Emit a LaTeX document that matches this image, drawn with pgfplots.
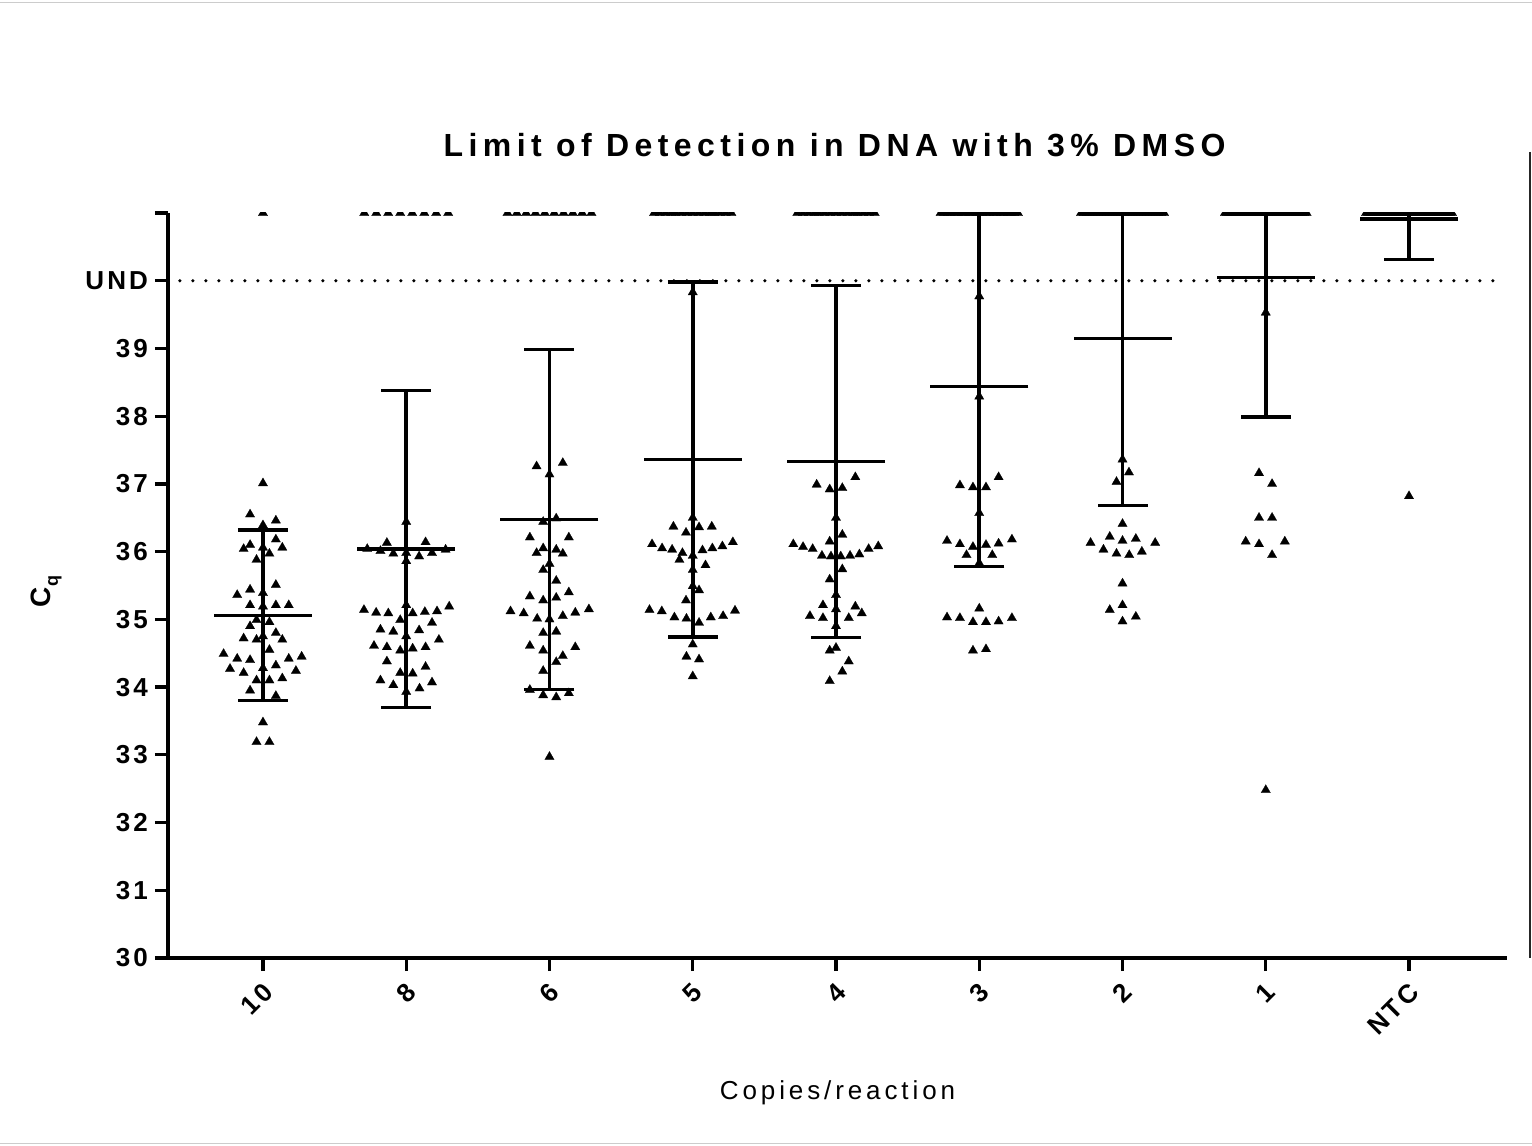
\documentclass[border=0pt]{standalone}
\usepackage{fontspec}
\setmainfont{Liberation Sans}[LetterSpace=15]
\newfontfamily\titlefont{Liberation Sans}[LetterSpace=17]
\newfontfamily\tickfont{Liberation Sans}[LetterSpace=12]
\usepackage{pgfplots}
\usepackage{pgfplotstable}
\pgfplotsset{compat=1.18}

% mean and SD per group (UND counted as 41)
\pgfplotstableread{
x mean sd
0 35.06 1.26
1 36.04 2.34
2 36.47 2.51
3 37.36 2.62
4 37.33 2.60
5 38.44 2.66
6 39.15 2.47
7 40.05 2.06
8 40.91 0.60
}\stats

\pgfplotsset{cqpt/.style={only marks, mark=triangle*, mark size=2.7pt,
    mark options={fill=black, draw=black, line width=0.1pt}}}

\begin{document}
\begin{tikzpicture}
\useasboundingbox (-84pt,-94pt) rectangle (682pt,479pt);
\draw[black!20, line width=0.8pt] (-84pt,477.8pt) -- (682pt,477.8pt);
\draw[black!20, line width=0.8pt] (-84pt,-92.8pt) -- (682pt,-92.8pt);
\draw[black!85, line width=0.7pt] (681pt,403pt) -- (681pt,0pt);
\begin{axis}[
  at={(0,0)}, anchor=south west,
  scale only axis, width=669.5pt, height=372.5pt,
  xmin=-0.663, xmax=8.684, ymin=30, ymax=41,
  axis x line*=bottom, axis y line*=left,
  axis line style={line width=1.6pt},
  xtick={0,...,8}, xticklabels={10,8,6,5,4,3,2,1,NTC},
  ytick={30,...,41}, yticklabels={30,31,32,33,34,35,36,37,38,39,UND,},
  tick align=outside, major tick length=6.5pt,
  tick style={line width=1.6pt, black},
  xticklabel style={font=\tickfont\bfseries\fontsize{13}{13}\selectfont,
    xshift=5pt, yshift=-6pt, rotate=45, anchor=east},
  yticklabel style={font=\tickfont\bfseries\fontsize{13}{13}\selectfont},
  clip marker paths=true,
  title={Limit of Detection in DNA with 3\% DMSO},
  title style={font=\titlefont\bfseries\fontsize{16}{18}\selectfont,
    at={(0.4978,1.0752)}, anchor=base, yshift=-6pt},
  xlabel={Copies/reaction},
  xlabel style={font=\fontsize{13}{15}\selectfont, at={(0.5,-0.1893)}, anchor=base},
  ylabel={C\raisebox{-0.28em}{\fontsize{9}{9}\selectfont q}},
  ylabel style={font=\bfseries\fontsize{14}{16}\selectfont, at={(-0.0881,0.492)}, anchor=base},
]
% UND line
\addplot[black, line width=1.8pt, line cap=round, dash pattern=on 0pt off 6.5pt]
  coordinates {(-0.58,40) (8.66,40)};
% mean and SD bars
\addplot[only marks, mark=-, mark size=24.5pt, mark options={line width=1.65pt},
  error bars/.cd, y dir=both, y explicit, error mark=|,
  error mark options={mark size=12.5pt, line width=1.65pt},
  error bar style={line width=1.8pt}]
  table[x=x, y=mean, y error=sd] {\stats};
% 10 copies
\addplot[cqpt] coordinates {
(0,37.01) (-0.09,36.55) (0.09,36.46) (0,36.39) (-0.09,36.10) (-0.135,36.04)
(0.09,36.18) (0.135,36.06) (0,36.06) (0.045,35.97) (-0.045,35.88) (0.09,35.51)
(-0.09,35.44) (-0.18,35.36) (0,35.39) (-0.09,35.21) (0,35.19) (0.09,35.21)
(0.18,35.21) (-0.045,34.99) (0.045,34.96) (-0.09,34.90) (-0.135,34.72) (-0.045,34.70)
(0.09,34.80) (0.135,34.70) (0,34.75) (0.045,34.55) (-0.275,34.49) (-0.18,34.42)
(-0.09,34.40) (0.18,34.42) (0.27,34.45) (-0.23,34.27) (-0.135,34.21) (0.09,34.32)
(0.23,34.24) (0,34.28) (-0.045,34.10) (0.045,34.10) (0.135,34.13) (-0.09,33.95)
(0.09,33.87) (0,33.48) (-0.045,33.19) (0.045,33.19) (0,41)};
% 8 copies
\addplot[cqpt] coordinates {
(1,36.44) (0.728,36.04) (0.82,36.01) (0.91,35.97) (1,35.98) (1.09,35.93)
(1.18,35.98) (1.275,36.03) (0.865,36.13) (1.135,36.14) (1,35.86) (0.705,35.14)
(0.79,35.10) (0.875,35.09) (0.958,34.99) (1.045,35.09) (1.13,35.11) (1.215,35.12)
(1.30,35.19) (1,35.21) (1.18,34.95) (0.82,34.85) (0.91,34.82) (1.09,34.84)
(1,34.75) (0.775,34.61) (0.865,34.59) (0.958,34.54) (1.045,34.57) (1.135,34.59)
(1.228,34.70) (0.865,34.38) (0.958,34.21) (1.045,34.20) (1.135,34.30) (0.82,34.10)
(0.91,34.03) (1.093,33.98) (1.18,34.07) (1,33.93)
(0.707,41) (0.791,41) (0.874,41) (0.958,41) (1.042,41) (1.126,41) (1.209,41) (1.293,41)};
% 6 copies
\addplot[cqpt] coordinates {
(1.91,37.26) (2.093,37.31) (2,37.14) (1.956,36.44) (2.047,36.49) (1.863,36.21)
(2.135,36.21) (1.956,36.05) (2.047,36.03) (1.91,35.98) (2.093,35.97) (2,35.82)
(1.956,35.73) (2.047,35.57) (1.863,35.34) (2.135,35.40) (1.956,35.28) (2.047,35.32)
(1.728,35.12) (1.82,35.09) (1.914,35.01) (2,35.00) (2.093,35.05) (2.18,35.10)
(2.275,35.15) (1.956,34.80) (2.047,34.82) (1.863,34.61) (2.18,34.59) (1.956,34.54)
(2.093,34.46) (2.047,34.37) (1.956,34.24) (1.863,33.96) (1.956,33.88) (2.047,33.85)
(2.135,33.91) (2,32.97)
(1.707,41) (1.772,41) (1.837,41) (1.902,41) (1.967,41) (2.033,41) (2.098,41)
(2.163,41) (2.228,41) (2.293,41)};
% 5 copies
\addplot[cqpt] coordinates {
(3,39.83) (3,36.50) (2.865,36.37) (3.044,36.36) (3.133,36.37) (2.953,36.28)
(2.716,36.11) (2.786,36.05) (2.856,36.03) (2.928,35.98) (3,35.94) (3.068,36.02)
(3.137,36.05) (3.207,36.08) (3.28,36.14) (2.907,35.88) (3.089,35.80) (3,35.73)
(3,35.49) (3.044,35.43) (2.953,35.28) (2.698,35.14) (2.784,35.12) (2.872,35.03)
(2.956,35.01) (3.044,34.95) (3.126,35.03) (3.212,35.05) (3.295,35.13) (3,34.63)
(2.956,34.45) (3.044,34.41) (3,34.16)
(2.73,41) (2.77,41) (2.81,41) (2.85,41) (2.88,41) (2.92,41) (2.96,41) (3,41)
(3.04,41) (3.08,41) (3.12,41) (3.15,41) (3.19,41) (3.23,41) (3.27,41)};
% 4 copies
\addplot[cqpt] coordinates {
(3.865,36.99) (3.956,36.92) (4.044,36.94) (4.135,37.10) (4,36.50) (3.956,36.15)
(4.044,36.25) (3.702,36.11) (3.77,36.07) (3.837,36.04) (3.902,35.94) (3.965,35.93)
(4.033,35.93) (4.098,35.94) (4.163,35.96) (4.228,36.04) (4.295,36.08) (4.044,35.74)
(3.956,35.59) (4,35.36) (3.909,35.21) (4.135,35.19) (4,35.15) (3.818,35.05)
(3.909,35.02) (4.089,35.02) (4.18,35.09) (4,34.90) (3.956,34.54) (4,34.58)
(4.089,34.38) (4.044,34.23) (3.956,34.09)
(3.73,41) (3.77,41) (3.81,41) (3.85,41) (3.88,41) (3.92,41) (3.96,41) (4,41)
(4.04,41) (4.08,41) (4.12,41) (4.15,41) (4.19,41) (4.23,41) (4.27,41)};
% 3 copies
\addplot[cqpt] coordinates {
(5,39.77) (5,38.29) (4.865,36.98) (4.956,36.95) (5.047,36.95) (5.135,37.10)
(5,36.57) (4.775,36.16) (4.865,36.11) (4.956,36.07) (5.047,36.10) (5.135,36.12)
(5.228,36.18) (4.911,35.95) (5.091,35.95) (5,35.83) (5,35.16) (4.775,35.03)
(4.865,35.02) (4.956,34.96) (5.047,34.96) (5.135,34.97) (5.228,35.02) (4.956,34.54)
(5.047,34.56)
(4.73,41) (4.755,41) (4.78,41) (4.80,41) (4.83,41) (4.85,41) (4.88,41) (4.90,41)
(4.93,41) (4.95,41) (4.98,41) (5,41) (5.02,41) (5.05,41) (5.07,41) (5.10,41)
(5.12,41) (5.15,41) (5.17,41) (5.20,41) (5.22,41) (5.245,41) (5.27,41)};
% 2 copies
\addplot[cqpt] coordinates {
(6,37.36) (5.958,37.03) (6.045,37.17) (6,36.41) (5.777,36.13) (5.911,36.22)
(6,36.16) (6.093,36.19) (6.228,36.13) (5.867,36.03) (5.958,35.97) (6.047,35.95)
(6.135,36.00) (6,35.53) (5.911,35.14) (6,35.21) (6,34.97) (6.093,35.04)
(5.71,41) (5.73,41) (5.75,41) (5.77,41) (5.79,41) (5.81,41) (5.83,41) (5.85,41)
(5.87,41) (5.89,41) (5.91,41) (5.93,41) (5.95,41) (5.97,41) (5.99,41) (6.01,41)
(6.03,41) (6.05,41) (6.07,41) (6.09,41) (6.11,41) (6.13,41) (6.15,41) (6.17,41)
(6.19,41) (6.21,41) (6.23,41) (6.25,41) (6.27,41) (6.29,41)};
% 1 copy
\addplot[cqpt] coordinates {
(7,39.53) (6.953,37.16) (7.044,37.00) (6.953,36.50) (7.044,36.50) (6.86,36.15)
(6.953,36.11) (7.133,36.15) (7.044,35.95) (7,32.48)
(6.715,41) (6.73,41) (6.745,41) (6.76,41) (6.775,41) (6.79,41) (6.805,41) (6.82,41)
(6.835,41) (6.85,41) (6.865,41) (6.88,41) (6.895,41) (6.91,41) (6.925,41) (6.94,41)
(6.955,41) (6.97,41) (6.985,41) (7,41) (7.015,41) (7.03,41) (7.045,41) (7.06,41)
(7.075,41) (7.09,41) (7.105,41) (7.12,41) (7.135,41) (7.15,41) (7.165,41) (7.18,41)
(7.195,41) (7.21,41) (7.225,41) (7.24,41) (7.255,41) (7.27,41) (7.285,41)};
% NTC
\addplot[cqpt] coordinates {
(8,36.82)
(7.7,41) (7.715,41) (7.73,41) (7.745,41) (7.76,41) (7.775,41) (7.79,41) (7.805,41)
(7.82,41) (7.835,41) (7.85,41) (7.865,41) (7.88,41) (7.895,41) (7.91,41) (7.925,41)
(7.94,41) (7.955,41) (7.97,41) (7.985,41) (8,41) (8.015,41) (8.03,41) (8.045,41)
(8.06,41) (8.075,41) (8.09,41) (8.105,41) (8.12,41) (8.135,41) (8.15,41) (8.165,41)
(8.18,41) (8.195,41) (8.21,41) (8.225,41) (8.24,41) (8.255,41) (8.27,41) (8.285,41)
(8.3,41)};
\end{axis}
\end{tikzpicture}
\end{document}
